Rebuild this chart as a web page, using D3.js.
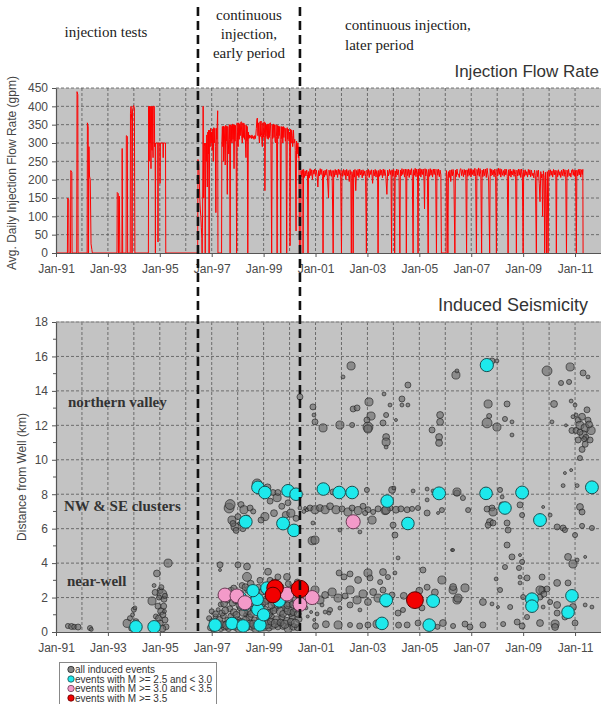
<!DOCTYPE html>
<html><head><meta charset="utf-8">
<script src="https://cdn.jsdelivr.net/npm/d3@7"></script>
<style>body{margin:0;background:#fff}svg{display:block}</style>
</head><body><svg id="c" width="601" height="704"></svg>
<script>
// ---------- DATA ----------
const yearTicks = [1991,1993,1995,1997,1999,2001,2003,2005,2007,2009,2011];
const yearTickLabels = ["Jan-91","Jan-93","Jan-95","Jan-97","Jan-99","Jan-01","Jan-03","Jan-05","Jan-07","Jan-09","Jan-11"];
const gridYears = [1992,1993,1994,1995,1996,1997,1998,1999,2000,2001,2002,2003,2004,2005,2006,2007,2008,2009,2010,2011];
const flowTicks = [0,50,100,150,200,250,300,350,400,450];
const distTicks = [0,2,4,6,8,10,12,14,16,18];
const distMinorTicks = [1,3,5,7,9,11,13,15,17];
const phaseBreaks = [1996.47, 2000.40];
const phaseLabels = [["injection tests"],["continuous","injection,","early period"],["continuous injection,","later period"]];
const regionLabels = ["northern valley","NW & SE clusters","near-well"];
const legendLabels = ["all induced events","events with M >= 2.5 and < 3.0","events with M >= 3.0 and < 3.5","events with M >= 3.5"];
const panelTitles = ["Injection Flow Rate","Induced Seismicity"];
const axisTitles = ["Avg. Daily Injection Flow Rate (gpm)","Distance from Well (km)"];

// [decimal year, gpm]
const flowRate = [
[1991.00,0],[1991.44,0],[1991.45,150],[1991.49,145],[1991.50,0],[1991.56,0],[1991.57,225],[1991.61,220],[1991.62,0],[1991.80,0],[1991.81,440],[1991.84,432],[1991.85,0],[1992.20,0],[1992.21,355],[1992.24,345],[1992.25,0],[1992.27,290],[1992.29,210],[1992.32,200],[1992.35,25],[1992.38,10],[1992.40,0],
[1993.35,0],[1993.36,165],[1993.40,162],[1993.41,0],[1993.44,155],[1993.46,0],[1993.54,0],[1993.55,285],[1993.57,0],[1993.70,0],[1993.71,320],[1993.75,318],[1993.76,0],[1993.86,0],[1993.87,380],[1993.89,400],[1993.92,360],[1993.93,0],[1993.95,390],[1993.99,402],[1994.02,395],[1994.04,0],
[1994.56,0],[1994.57,400],[1994.59,250],[1994.60,400],[1994.62,300],[1994.63,400],[1994.66,230],[1994.67,400],[1994.70,280],[1994.71,400],[1994.74,260],[1994.75,400],[1994.79,400],[1994.80,290],[1994.82,300],[1994.83,0],[1994.84,300],[1994.92,300],[1994.93,30],[1994.94,300],[1995.00,300],[1995.01,190],[1995.02,300],[1995.12,300],[1995.13,260],[1995.14,300],[1995.22,300],[1995.23,0],[1996.46,0],
[1996.47,255],[1996.50,240],[1996.52,200],[1996.54,150],[1996.56,120],[1996.58,100],[1996.60,70],[1996.62,40],[1996.63,0],[1996.65,120],[1996.67,400],[1996.69,150],[1996.71,290],[1996.73,300],[1996.75,0],
[1996.77,300],[1996.79,250],[1996.81,322],[1996.83,180],[1996.85,330],[1996.87,270],[1996.88,335],[1996.90,0],[1996.92,335],[1996.94,290],[1996.96,340],[1996.98,300],[1997.00,330],[1997.02,280],[1997.04,338],[1997.06,250],[1997.08,342],[1997.10,300],[1997.12,340],[1997.14,290],[1997.16,110],[1997.18,340],[1997.20,310],[1997.21,345],[1997.23,388],[1997.24,0],[1997.38,0],
[1997.39,300],[1997.41,345],[1997.43,290],[1997.45,346],[1997.46,250],[1997.48,345],[1997.50,300],[1997.52,240],[1997.54,348],[1997.56,305],[1997.58,346],[1997.60,160],[1997.62,345],[1997.64,300],[1997.66,270],[1997.68,350],[1997.69,310],[1997.71,0],[1997.73,350],[1997.75,305],[1997.77,348],[1997.78,300],[1997.80,352],[1997.82,310],[1997.84,350],[1997.86,230],[1997.88,350],[1997.90,305],[1997.92,348],[1997.94,310],[1997.96,0],[1997.98,355],
[1998.00,300],[1998.02,290],[1998.04,355],[1998.06,310],[1998.08,352],[1998.10,320],[1998.12,356],[1998.14,358],[1998.16,312],[1998.18,300],[1998.20,355],[1998.22,315],[1998.24,354],[1998.26,310],[1998.28,350],[1998.30,300],[1998.32,260],[1998.34,348],[1998.36,305],[1998.37,345],[1998.39,0],[1998.41,330],[1998.43,312],[1998.45,322],[1998.47,314],[1998.50,320],[1998.53,312],[1998.55,322],[1998.58,313],[1998.60,318],[1998.63,310],[1998.65,320],[1998.68,312],[1998.70,322],[1998.72,340],[1998.74,365],[1998.76,368],[1998.78,320],[1998.80,355],[1998.82,315],[1998.84,300],[1998.86,358],[1998.88,318],[1998.90,360],[1998.92,320],[1998.95,290],[1998.97,355],[1998.99,315],
[1999.02,358],[1999.04,320],[1999.05,170],[1999.07,355],[1999.09,318],[1999.12,350],[1999.14,312],[1999.16,352],[1999.18,310],[1999.20,352],[1999.22,315],[1999.24,354],[1999.26,355],[1999.28,318],[1999.31,0],[1999.33,350],[1999.35,312],[1999.38,352],[1999.40,315],[1999.42,350],[1999.44,305],[1999.46,300],[1999.48,350],[1999.50,318],[1999.52,0],[1999.54,348],[1999.56,312],[1999.58,346],[1999.60,320],[1999.62,345],[1999.64,310],[1999.66,0],[1999.68,345],[1999.70,312],[1999.72,344],[1999.74,300],[1999.76,345],[1999.78,315],[1999.80,342],[1999.82,340],[1999.84,305],[1999.86,340],[1999.89,0],[1999.91,342],[1999.93,310],[1999.96,338],[1999.98,305],
[2000.00,330],[2000.02,20],[2000.04,338],[2000.06,300],[2000.08,335],[2000.10,320],[2000.12,290],[2000.15,335],[2000.17,300],[2000.20,310],[2000.22,280],[2000.25,60],[2000.27,305],[2000.29,270],[2000.32,300],[2000.34,260],[2000.36,290],[2000.38,0],[2000.43,0],
[2000.44,225],[2000.47,208],[2000.49,227],[2000.51,212],[2000.52,0],[2000.54,228],[2000.57,206],[2000.60,224],[2000.63,210],[2000.66,226],[2000.69,214],[2000.71,0],[2000.73,222],[2000.76,205],[2000.79,230],[2000.82,211],[2000.85,227],[2000.88,200],[2000.91,226],[2000.94,215],[2000.97,229],
[2001.00,209],[2001.03,226],[2001.06,212],[2001.09,180],[2001.12,225],[2001.15,210],[2001.18,230],[2001.21,214],[2001.24,228],[2001.27,208],[2001.29,0],[2001.31,224],[2001.34,207],[2001.37,226],[2001.40,212],[2001.43,228],[2001.46,205],[2001.50,150],[2001.52,226],[2001.55,211],[2001.58,227],[2001.61,209],[2001.64,225],[2001.68,0],[2001.70,225],[2001.73,208],[2001.76,228],[2001.79,213],[2001.82,226],[2001.85,206],[2001.88,229],[2001.91,214],[2001.94,227],[2001.97,210],
[2002.00,0],[2002.02,225],[2002.05,209],[2002.08,228],[2002.11,212],[2002.14,226],[2002.17,200],[2002.20,228],[2002.23,210],[2002.26,225],[2002.30,195],[2002.33,227],[2002.36,212],[2002.38,0],[2002.40,222],[2002.43,210],[2002.45,0],[2002.47,226],[2002.50,207],[2002.52,228],[2002.55,170],[2002.58,225],[2002.61,211],[2002.64,228],[2002.67,206],[2002.70,229],[2002.73,213],[2002.76,226],[2002.80,205],[2002.83,227],[2002.86,211],[2002.90,224],[2002.93,208],[2002.96,0],[2002.98,226],
[2003.01,212],[2003.04,228],[2003.07,206],[2003.10,225],[2003.13,214],[2003.16,227],[2003.20,190],[2003.23,226],[2003.26,210],[2003.30,228],[2003.33,207],[2003.36,225],[2003.39,213],[2003.41,0],[2003.43,225],[2003.46,209],[2003.49,228],[2003.52,212],[2003.55,226],[2003.58,205],[2003.61,229],[2003.64,211],[2003.67,227],[2003.71,208],[2003.75,160],[2003.78,226],[2003.81,210],[2003.85,228],[2003.88,214],[2003.91,225],[2003.93,0],[2003.95,227],[2003.98,209],
[2004.01,228],[2004.03,212],[2004.05,0],[2004.07,224],[2004.10,207],[2004.13,229],[2004.16,213],[2004.19,227],[2004.22,206],[2004.25,0],[2004.27,226],[2004.30,210],[2004.33,230],[2004.36,214],[2004.40,228],[2004.43,207],[2004.46,229],[2004.48,212],[2004.50,0],[2004.52,228],[2004.55,211],[2004.58,229],[2004.61,206],[2004.64,227],[2004.67,213],[2004.70,230],[2004.73,209],[2004.76,0],[2004.78,227],[2004.81,212],[2004.84,231],[2004.87,208],[2004.90,229],[2004.93,215],[2004.95,0],[2004.97,229],
[2005.00,212],[2005.03,230],[2005.06,207],[2005.09,228],[2005.12,214],[2005.15,229],[2005.18,200],[2005.20,120],[2005.22,230],[2005.25,210],[2005.28,228],[2005.31,213],[2005.34,0],[2005.36,228],[2005.39,209],[2005.42,230],[2005.45,212],[2005.48,227],[2005.51,207],[2005.54,229],[2005.57,214],[2005.60,229],[2005.63,210],[2005.66,0],[2005.68,228],[2005.71,212],[2005.74,229],[2005.77,208],[2005.80,226],[2005.83,213],[2005.85,0],[2006.03,0],
[2006.04,225],[2006.07,209],[2006.10,0],[2006.12,222],[2006.15,206],[2006.18,226],[2006.21,195],[2006.24,227],[2006.27,210],[2006.30,228],[2006.33,212],[2006.37,0],[2006.39,226],[2006.42,208],[2006.45,229],[2006.48,214],[2006.51,215],[2006.54,206],[2006.57,228],[2006.60,230],[2006.63,211],[2006.66,227],[2006.70,208],[2006.73,228],[2006.76,213],[2006.79,226],[2006.82,0],[2006.84,227],[2006.87,209],[2006.90,230],[2006.93,212],[2006.96,230],[2006.99,207],
[2007.02,228],[2007.05,214],[2007.08,227],[2007.11,210],[2007.14,231],[2007.17,208],[2007.20,0],[2007.22,228],[2007.25,212],[2007.28,232],[2007.31,209],[2007.34,230],[2007.37,213],[2007.40,0],[2007.42,226],[2007.45,208],[2007.48,229],[2007.51,211],[2007.55,229],[2007.58,206],[2007.61,231],[2007.64,215],[2007.67,200],[2007.71,0],[2007.73,230],[2007.76,210],[2007.79,228],[2007.82,213],[2007.85,226],[2007.88,208],[2007.91,229],[2007.94,212],[2007.97,0],[2007.99,228],
[2008.02,210],[2008.05,231],[2008.08,214],[2008.11,230],[2008.14,207],[2008.17,228],[2008.20,212],[2008.24,225],[2008.27,209],[2008.30,229],[2008.33,213],[2008.36,228],[2008.39,208],[2008.42,0],[2008.44,227],[2008.47,211],[2008.50,229],[2008.53,207],[2008.56,224],[2008.59,213],[2008.62,228],[2008.65,209],[2008.68,227],[2008.71,214],[2008.74,0],[2008.76,226],[2008.79,210],[2008.82,229],[2008.85,212],[2008.88,228],[2008.91,206],[2008.94,229],[2008.97,213],
[2009.00,0],[2009.02,226],[2009.05,209],[2009.08,227],[2009.11,212],[2009.14,222],[2009.17,207],[2009.20,228],[2009.23,213],[2009.26,227],[2009.29,208],[2009.32,226],[2009.35,211],[2009.38,218],[2009.41,205],[2009.44,226],[2009.47,212],[2009.51,0],[2009.53,225],[2009.56,208],[2009.59,226],[2009.62,190],[2009.65,140],[2009.68,222],[2009.71,205],[2009.73,215],[2009.75,100],[2009.78,224],[2009.81,206],[2009.83,0],[2009.86,220],[2009.88,160],[2009.90,0],[2009.93,222],[2009.96,0],[2009.99,226],
[2010.02,209],[2010.05,227],[2010.08,212],[2010.11,224],[2010.14,207],[2010.17,228],[2010.20,213],[2010.23,226],[2010.26,210],[2010.28,0],[2010.30,225],[2010.33,208],[2010.36,227],[2010.39,212],[2010.42,222],[2010.45,206],[2010.48,226],[2010.51,211],[2010.55,229],[2010.58,209],[2010.61,227],[2010.64,213],[2010.67,0],[2010.69,226],[2010.72,208],[2010.75,228],[2010.78,211],[2010.81,218],[2010.84,207],[2010.87,226],[2010.90,228],[2010.93,212],[2010.96,227],[2010.99,209],
[2011.02,225],[2011.05,0],[2011.07,226],[2011.10,210],[2011.13,228],[2011.16,213],[2011.19,229],[2011.22,207],[2011.25,227],[2011.28,214],[2011.30,228],[2011.31,0]
];

// [decimal year, distance km, magnitude]
const quakesAll = [
[1991.46,0.35,0.2],[1991.60,0.32,0.5],[1991.70,0.30,0.2],[1991.85,0.29,0.5],[1992.31,0.23,0.2],[1992.36,0.15,-0.2],
[1993.74,0.5,1.2],[1993.85,0.8,0.2],[1993.95,1.0,-0.2],[1994.00,1.3,0.2],[1994.04,1.4,-0.2],[1994.08,0.6,0.5],[1994.12,0.3,0.5],[1993.90,0.2,0.2],
[1995.32,4.0,1.2],[1994.89,3.4,0.8],[1994.78,2.7,-0.2],[1995.01,2.4,0.5],[1995.08,2.2,1.8],[1994.70,1.8,1.2],[1995.16,1.9,0.5],[1994.93,1.5,0.5],[1995.05,1.2,0.8],[1995.12,1.0,0.5],[1994.85,0.9,0.2],[1995.20,0.7,0.5],[1995.00,0.5,0.8],[1994.66,0.4,0.2],[1995.24,0.3,0.5],[1995.10,0.2,0.8],[1995.15,1.5,0.5],[1994.97,2.0,0.2],[1995.18,1.2,-0.2],[1994.95,0.8,0.5],[1995.06,2.6,0.2],[1995.20,2.1,0.2],[1994.82,2.3,0.5],
[1997.32,3.9,0.5],[1997.32,3.6,-0.5],[1998.01,3.9,0.5],[1998.36,3.8,0.8],[1998.36,3.2,1.5],[1999.17,3.5,0.8],[1999.25,3.0,0.5],[1999.55,3.2,0.5],[1999.90,3.2,0.8],[1998.86,3.0,0.5],[1998.17,2.7,0.5],[1998.50,2.8,0.8],[1999.40,2.9,0.5],[1999.95,2.8,0.5],[2000.30,2.9,0.5],
[1996.95,0.25,0.5],[1997.05,0.15,0.2],[1997.20,0.3,0.8],[1997.35,0.2,0.5],[1997.50,0.35,1.2],[1997.65,0.2,0.5],[1997.90,0.3,0.8],[1998.05,0.2,1.2],[1998.35,0.25,0.5],[1998.55,0.3,0.8],[1998.70,0.2,1.2],[1999.00,0.3,1.2],[1999.20,0.25,0.8],[1999.35,0.4,1.2],[1999.55,0.3,0.5],[1999.75,0.35,0.8],[1999.95,0.2,1.2],[2000.15,0.3,0.8],[2000.30,0.25,0.5],
[1996.90,0.8,0.2],[1997.02,0.6,0.5],[1997.15,0.9,0.2],[1997.30,0.7,0.8],[1997.45,0.95,0.5],[1997.60,0.7,0.2],[1997.75,0.9,0.8],[1998.00,0.75,0.5],[1998.15,0.6,0.8],[1998.45,0.85,0.8],[1998.65,0.7,0.5],[1998.90,0.8,1.2],[1999.10,0.6,0.8],[1999.30,0.9,0.5],[1999.50,0.7,1.2],[1999.70,0.85,0.5],[1999.90,0.65,0.8],[2000.10,0.9,0.5],[2000.35,0.75,0.8],
[1997.00,1.2,0.2],[1997.25,1.3,-0.2],[1997.40,1.1,0.5],[1997.70,1.35,0.5],[1997.85,1.15,0.8],[1998.10,1.4,0.5],[1998.40,1.2,0.8],[1998.60,1.35,0.5],[1999.05,1.3,0.8],[1999.25,1.15,0.5],[1999.45,1.4,0.8],[1999.65,1.2,1.2],[1999.85,1.35,0.5],[2000.05,1.1,0.8],[2000.25,1.3,0.5],
[1997.35,1.6,0.2],[1997.60,1.85,0.5],[1997.80,1.7,0.8],[1998.05,1.55,0.5],[1998.50,1.8,0.8],[1998.95,1.65,0.8],[1999.15,1.9,1.2],[1999.40,1.7,0.8],[1999.60,1.55,0.5],[1999.80,1.9,0.8],[2000.00,1.7,1.2],[2000.20,1.85,0.5],
[1997.55,2.3,0.5],[1997.75,2.4,0.8],[1998.12,2.25,0.5],[1998.40,2.45,0.8],[1998.65,2.2,0.5],[1998.95,2.35,0.8],[1999.20,2.2,0.5],[1999.55,2.4,0.8],[1999.75,2.3,0.5],[2000.05,2.35,0.8],[2000.30,2.2,0.5],
[1997.10,0.5,-0.2],[1997.55,0.55,-0.5],[1998.25,0.5,-0.2],[1998.80,0.45,-0.2],[1999.60,0.5,-0.5],[2000.00,0.45,-0.2],[1998.30,1.0,-0.2],[1999.00,1.0,-0.5],
[1997.05,0.45,0.8],[1997.22,0.55,0.5],[1997.40,0.45,0.8],[1997.58,0.4,1.2],[1997.72,0.6,0.8],[1997.95,0.5,1.2],[1998.12,0.4,0.8],[1998.30,0.65,1.2],[1998.48,0.5,0.8],[1998.62,0.45,1.2],[1998.95,0.55,0.8],[1999.15,0.45,1.2],[1999.28,0.6,0.8],[1999.45,0.5,1.2],[1999.65,0.55,0.8],[1999.82,0.45,1.2],[2000.05,0.6,0.8],[2000.22,0.5,1.2],
[1997.15,1.05,0.5],[1997.52,1.25,0.8],[1997.95,1.0,0.8],[1998.22,1.15,1.2],[1998.52,1.05,0.8],[1998.85,1.15,0.8],[1999.18,1.05,1.2],[1999.38,1.25,0.8],[1999.75,1.05,0.8],[1999.95,1.25,1.2],[2000.15,1.15,0.8],[2000.32,1.05,0.8],
[1997.48,1.65,0.8],[1997.92,1.85,0.8],[1998.30,1.9,0.8],[1998.70,1.6,1.2],[1999.05,1.75,0.8],[1999.30,1.55,0.8],[1999.68,1.75,1.2],[1999.92,1.55,0.8],[2000.12,1.6,0.8],
[1997.85,2.55,0.5],[1998.30,2.6,0.8],[1998.80,2.6,0.5],[1999.05,2.45,0.8],[1999.65,2.6,0.8],[2000.15,2.6,0.5],
[1997.67,7.2,1.8],[1997.78,6.5,1.2],[1997.90,6.1,1.2],[1998.01,6.7,0.5],[1998.13,7.4,0.5],[1998.24,7.1,1.2],[1998.48,7.2,0.5],[1997.94,5.9,0.5],[1997.71,7.4,1.8],[1997.82,6.3,0.5],[1998.09,6.3,-0.2],[1998.20,6.0,0.5],[1998.75,8.6,1.8],[1999.05,6.7,1.2],[1999.25,7.6,0.5],[1999.52,7.8,1.2],[1999.36,8.1,0.5],[1999.55,8.1,0.5],[1999.94,7.5,0.5],[2000.40,7.2,-0.2],[2000.87,5.3,1.2],[1999.15,8.4,0.8],[1999.70,7.3,0.5],[1999.85,6.8,0.8],[1998.90,6.5,0.5],[1999.40,6.9,0.8],[2000.05,6.9,1.2],[2000.25,6.6,0.5],[1998.60,7.0,0.2],[1998.35,6.6,0.8],
[2000.40,13.65,0.5],[2002.37,15.45,1.2],[2002.06,14.81,-0.2],[2000.90,13.07,0.5],[2000.94,12.6,-0.2],[2000.98,12.2,0.5],[2001.29,11.85,1.2],[2001.94,12.02,1.2],[2002.41,12.02,0.2],[2002.45,12.95,0.5],[2002.60,13.01,0.5],[2003.06,13.36,1.2],[2003.14,12.54,1.2],[2002.98,12.31,0.5],[2003.02,11.9,1.8],[2003.02,11.79,1.2],[2003.60,12.14,0.5],[2003.64,13.82,-0.2],[2003.72,12.6,0.2],[2003.87,13.18,-0.2],[2003.72,11.32,0.8],[2003.72,11.03,1.2],[2003.72,10.74,-0.2],[2004.10,12.31,-0.5],[2004.33,13.53,0.5],[2004.33,13.18,-0.2],[2004.56,13.18,-0.2],[2004.56,14.34,0.5],[2005.49,11.73,0.5],[2005.80,12.6,0.8],[2005.80,12.2,0.8],[2005.76,11.32,0.8],[2005.76,10.98,0.8],[2006.41,14.92,1.2],[2006.45,15.16,-0.2],[2007.65,13.24,1.2],[2007.69,12.54,0.2],[2007.61,12.14,1.8],[2007.99,11.9,1.2],[2007.80,15.74,0.5],[2007.99,15.74,-0.2],[2008.38,13.24,0.5],[2008.30,12.37,0.2],[2008.57,12.2,-0.2],[2008.57,11.44,-0.2],[2009.92,15.16,1.8],[2010.19,13.24,0.8],[2010.11,12.2,-0.2],[2010.46,14.46,0.2],[2010.81,15.39,1.2],[2010.77,14.52,0.2],[2010.85,13.41,-0.2],[2011.00,13.18,-0.2],[2011.31,15.04,0.5],[2011.50,14.81,-0.2],
[2011.04,12.6,-0.2],[2011.12,12.3,0.5],[2011.19,12.0,1.2],[2011.39,11.85,1.2],[2011.50,12.3,0.5],[2011.62,11.7,1.2],[2011.31,11.45,1.2],[2011.12,11.15,0.5],[2011.39,10.9,0.5],[2011.27,10.6,0.5],[2011.42,11.3,0.5],[2010.88,11.7,0.5],[2011.04,11.7,0.5],[2011.19,11.6,0.5],[2011.58,11.15,0.5],[2011.19,10.1,0.2],[2011.46,12.9,0.5],[2010.92,12.5,-0.2],[2010.65,12.0,-0.5],[2010.85,9.4,-0.5],[2010.54,8.5,-0.2],[2011.08,8.5,-0.2],[2011.27,12.5,0.8],[2011.54,12.05,0.8],[2011.35,11.2,0.2],
[2001.67,8.13,0.5],[2002.98,8.25,0.2],[2003.95,8.25,0.8],[2004.02,8.36,-0.2],[2004.76,8.19,-0.2],[2005.30,8.3,-0.2],[2005.53,8.19,-0.2],[2006.45,8.07,0.5],
[2000.67,7.1,-0.2],[2000.79,7.2,0.5],[2000.98,7.1,1.2],[2001.17,7.2,0.8],[2001.37,7.1,1.2],[2001.56,7.3,0.8],[2001.79,7.1,1.2],[2002.02,7.15,0.5],[2002.25,6.97,1.2],[2002.41,7.2,0.5],[2002.64,7.05,1.2],[2002.83,7.3,0.5],[2003.02,7.1,0.5],[2003.22,6.97,0.2],[2003.41,7.15,0.5],[2003.68,7.05,1.2],[2003.87,7.2,0.5],[2004.10,7.1,0.8],[2004.29,7.15,0.5],[2004.53,7.1,0.5],[2004.72,7.15,0.2],[2004.95,7.2,0.2],[2000.55,7.0,-0.2],[2000.60,7.2,-0.5],
[2003.18,6.5,1.2],[2002.91,6.91,0.2],[2003.99,6.21,0.5],[2004.06,5.63,0.5],[2001.94,5.92,-0.2],[2000.98,5.34,1.2],[2000.90,6.33,-0.2],[2005.30,7.67,-0.2],[2005.30,6.91,0.5],[2005.72,6.91,-0.5],[2006.26,4.76,-0.5],[2004.18,4.3,-0.2],[2002.71,5.81,-0.2],[2003.72,7.08,1.2],
[2001.91,3.43,0.5],[2002.10,3.2,0.5],[2002.33,3.37,0.5],[2002.64,3.02,0.8],[2003.02,3.43,1.2],[2003.10,3.14,0.5],[2003.49,2.9,0.2],[2003.60,3.48,0.8],[2003.79,3.19,0.2],[2004.06,3.43,-0.2],[2005.14,3.6,0.5],[2005.87,3.02,1.2],[2006.30,2.44,1.2],[2006.45,1.86,1.2],
[2000.98,2.44,1.2],[2001.17,1.86,1.2],[2001.37,2.15,0.8],[2001.64,2.32,1.2],[2001.87,1.97,1.2],[2002.14,2.09,0.5],[2002.33,2.44,1.2],[2002.60,1.86,1.2],[2002.83,2.21,1.2],[2003.02,1.74,0.8],[2003.22,2.32,0.8],[2003.41,1.97,1.2],[2003.60,2.44,0.5],[2003.72,1.68,1.2],[2003.95,2.15,0.5],[2002.33,1.57,0.5],[2001.94,1.39,-0.2],[2001.56,1.28,0.2],[2001.37,1.16,-0.2],[2002.71,1.28,-0.2],
[2000.63,1.4,-0.2],[2000.83,1.16,-0.5],[2001.06,1.05,-0.2],[2001.25,1.57,-0.2],[2001.52,1.1,-0.2],[2000.70,0.9,-0.5],[2000.95,0.7,-0.5],
[2001.87,0.41,1.2],[2002.33,0.41,0.2],[2003.02,0.41,0.5],[2003.37,0.46,1.2],[2004.53,0.41,0.5],[2004.95,0.52,0.5],[2006.30,0.35,0.2],[2001.00,0.35,0.5],[2001.40,0.45,0.8],[2002.70,0.35,0.5],[2004.20,0.4,0.5],[2005.70,0.3,0.2],
[2004.80,1.9,1.8],[2004.37,1.28,0.2],[2004.18,1.1,0.5],[2004.40,2.1,0.8],[2005.00,2.4,0.8],[2005.30,2.6,0.5],[2005.60,2.3,0.8],[2005.10,1.4,0.5],
[2006.45,8.13,1.2],[2006.68,7.78,0.2],[2005.87,7.08,0.2],[2006.88,7.08,0.2],[2007.61,7.14,0.5],[2007.80,7.2,0.5],[2007.84,6.97,1.2],[2007.72,6.39,0.8],[2007.65,6.21,0.5],[2007.84,6.33,0.5],[2008.11,8.25,0.2],[2008.19,7.84,-0.2],[2008.19,7.38,0.5],[2008.38,6.33,0.5],[2008.42,5.92,0.5],[2008.96,6.79,0.2],[2008.38,5.05,0.5],[2006.30,4.76,-0.5],[2008.57,4.36,0.5],[2008.30,3.77,0.2],[2008.88,4.47,-0.5],[2008.96,4.07,0.2],[2008.84,3.72,0.2],[2009.15,3.14,0.5],[2008.88,3.19,-0.2],[2008.88,2.85,-0.2],[2009.73,3.19,0.5],[2010.73,4.36,0.8],[2010.92,3.95,1.2],[2011.08,4.18,-0.2],[2011.39,4.36,-0.5],[2010.73,2.85,0.5],[2010.31,2.85,0.8],[2009.73,2.44,0.8],[2009.92,2.5,0.5],[2010.04,1.74,0.2],[2010.31,1.57,0.8],[2010.92,1.45,0.8],[2011.39,1.57,-0.2],[2011.65,1.45,-0.2],[2006.30,2.61,0.8],[2006.76,2.56,1.2],[2006.49,1.97,1.2],[2007.45,1.74,0.8],[2007.80,1.63,-0.2],[2007.96,3.08,-0.2],[2008.03,1.45,-0.5],[2008.50,1.45,0.2],[2009.00,2.03,0.2],[2009.65,2.03,0.5],[2009.77,1.45,-0.2],[2009.15,0.87,0.2],[2005.91,0.52,0.8],[2006.76,0.46,0.5],[2006.95,0.29,0.5],[2007.45,0.41,0.5],[2008.23,0.46,0.2],[2008.77,0.58,0.5],[2008.96,0.35,0.5],[2009.65,0.52,0.8],[2010.23,0.46,1.2],[2010.23,0.29,0.8],[2011.00,0.52,0.5],[2010.61,0.87,0.5],[2010.31,1.1,0.5],[2008.11,2.44,0.2],[2009.65,2.44,1.2],[2009.80,2.2,0.5],
[2010.61,9.23,-0.5],[2011.19,7.26,0.8],[2011.27,6.97,0.5],[2010.31,6.1,0.5],[2010.54,6.04,0.5],[2010.61,5.92,0.2],[2011.00,5.63,0.2],[2011.27,6.16,0.2],[2011.65,6.04,0.2],[2010.04,6.79,-0.2],[2009.77,7.26,-0.5],[2008.88,7.38,0.5]
];
const quakesM25 = [
[1994.08,0.3,2.7],[1994.78,0.3,2.7],[1997.13,0.4,2.7],[1997.78,0.5,2.6],[1998.21,0.35,2.7],[1998.86,0.4,2.6],[1998.78,1.3,2.7],[1998.75,1.9,2.7],[1998.59,2.4,2.6],[1999.13,2.55,2.7],[1998.28,1.6,2.6],[1999.00,1.0,2.6],[1998.10,2.0,2.6],[1999.60,1.8,2.6],
[1998.31,6.4,2.8],[1998.78,8.4,2.7],[1999.05,8.1,2.7],[1999.94,8.2,2.7],[2000.25,8.0,2.7],[1999.75,6.3,2.8],[2000.17,5.9,2.7],
[2001.30,8.3,2.7],[2001.91,8.1,2.7],[2002.41,8.1,2.7],[2003.76,7.6,2.7],[2004.56,6.3,2.7],[2005.76,8.05,2.8],[2007.57,8.05,2.7],[2008.96,8.1,2.8],[2011.65,8.4,2.8],[2008.30,7.2,2.7],[2009.65,6.5,2.8],
[2003.72,1.85,2.8],[2005.53,1.8,2.8],[2003.56,0.5,2.7],[2005.38,0.4,2.7],[2009.34,1.9,2.8],[2009.34,1.5,2.7],[2010.88,2.1,2.7],[2010.73,1.15,2.7],[2007.60,15.5,2.9]
];
const quakesM30 = [[1997.51,2.15,3.1],[1997.97,2.1,3.1],[1998.28,1.7,3.2],[1999.90,2.2,3.1],[2000.40,1.6,3.1],[2000.87,2.0,3.2],[2002.45,6.4,3.2]];
const quakesM35 = [[1999.44,2.55,4.0],[1999.36,2.15,3.7],[2000.40,2.5,4.3],[2004.83,1.85,4.1]];

// ---------- CHART ----------
const svg = d3.select("#c");
const W = 601;
const x = d3.scaleLinear().domain([1991, 2012]).range([56, 601]);
const yF = d3.scaleLinear().domain([0, 450]).range([253, 88]);
const yD = d3.scaleLinear().domain([0, 18]).range([632, 322]);
const rM = d3.scaleLinear().domain([-0.5, 2.5]).range([1.5, 6]);
const bg = "#c3c3c3", gridC = "#555", tickC = "#4a4a4a", sans = "Liberation Sans, Arial, sans-serif", serif = "Liberation Serif, Times New Roman, serif";

function panel(y, ticks, clipId) {
  const [y0, y1] = y.range();
  svg.append("clipPath").attr("id", clipId).append("rect")
    .attr("x", x(1991)).attr("y", y1).attr("width", W - x(1991)).attr("height", y0 - y1);
  svg.append("rect").attr("x", x(1991)).attr("y", y1).attr("width", W - x(1991)).attr("height", y0 - y1).attr("fill", bg);
  const g = svg.append("g").attr("stroke", gridC).attr("stroke-width", 0.8).attr("stroke-dasharray", "3,2");
  g.selectAll(".v").data(gridYears).join("line").attr("x1", d => x(d)).attr("x2", d => x(d)).attr("y1", y1).attr("y2", y0);
  g.selectAll(".h").data(ticks.filter(t => t > 0)).join("line").attr("x1", x(1991)).attr("x2", W).attr("y1", d => y(d)).attr("y2", d => y(d));
}
function axes(y, ticks, minor) {
  const [y0, y1] = y.range();
  const xa = svg.append("g").attr("transform", `translate(0,${y0})`)
    .call(d3.axisBottom(x).tickValues(yearTicks).tickFormat((d, i) => yearTickLabels[i]).tickSize(4).tickSizeOuter(0));
  xa.select(".domain").attr("stroke", "#555").attr("stroke-width", 1.2);
  xa.selectAll(".tick line").attr("stroke", "#555");
  xa.selectAll("text").attr("font-family", sans).attr("font-size", 12).attr("fill", tickC).attr("dy", "1.1em");
  const ya = svg.append("g").attr("transform", `translate(${x(1991)},0)`)
    .call(d3.axisLeft(y).tickValues(ticks).tickSize(4).tickSizeOuter(0).tickPadding(4));
  ya.select(".domain").attr("stroke", "#555").attr("stroke-width", 1.2);
  ya.selectAll(".tick line").attr("stroke", "#555");
  ya.selectAll("text").attr("font-family", sans).attr("font-size", 12).attr("fill", tickC);
  if (minor) {
    svg.append("g").selectAll("line").data(minor).join("line")
      .attr("x1", x(1991) - 3).attr("x2", x(1991)).attr("y1", d => y(d)).attr("y2", d => y(d)).attr("stroke", "#555");
  }
}

// top panel
panel(yF, flowTicks, "clipF");
svg.append("path").datum(flowRate).attr("clip-path", "url(#clipF)")
  .attr("d", d3.line().x(d => x(d[0])).y(d => yF(d[1])))
  .attr("fill", "none").attr("stroke", "#ff0000").attr("stroke-width", 1).attr("stroke-linejoin", "round");
axes(yF, flowTicks, null);

// bottom panel
panel(yD, distTicks, "clipD");
svg.append("line").attr("x1", x(1991)).attr("x2", W).attr("y1", yD(18)).attr("y2", yD(18)).attr("stroke", "#999").attr("stroke-width", 1);
const pts = svg.append("g").attr("clip-path", "url(#clipD)");
function dots(data, fill, stroke, sw) {
  pts.append("g").selectAll("circle").data(data).join("circle")
    .attr("cx", d => x(d[0])).attr("cy", d => yD(d[1])).attr("r", d => rM(d[2]))
    .attr("fill", fill).attr("stroke", stroke).attr("stroke-width", sw);
}
dots(quakesAll, "rgba(105,105,105,0.62)", "rgba(25,25,25,0.75)", 0.8);
dots(quakesM25, "#1de9ec", "#1b4f50", 1);
dots(quakesM30, "#f39ac9", "#6a3a55", 1);
dots(quakesM35, "#f20000", "#5a0000", 1);
axes(yD, distTicks, distMinorTicks);

// phase break dashed lines
svg.append("g").selectAll("line").data(phaseBreaks).join("line")
  .attr("x1", d => x(d)).attr("x2", d => x(d)).attr("y1", 7).attr("y2", 631)
  .attr("stroke", "#111").attr("stroke-width", 2.6).attr("stroke-dasharray", "9,5");

// phase labels
const pl = svg.append("g").attr("font-family", serif).attr("font-size", 15).attr("fill", "#222");
pl.append("text").attr("x", 106).attr("y", 37).attr("text-anchor", "middle").text(phaseLabels[0][0]);
phaseLabels[1].forEach((t, i) => pl.append("text").attr("x", (x(phaseBreaks[0]) + x(phaseBreaks[1])) / 2).attr("y", 20 + i * 19).attr("text-anchor", "middle").text(t));
phaseLabels[2].forEach((t, i) => pl.append("text").attr("x", 345).attr("y", 30 + i * 20).text(t));

// titles
svg.append("text").attr("x", 599).attr("y", 77).attr("text-anchor", "end").attr("font-family", sans).attr("font-size", 17).attr("fill", "#333").text(panelTitles[0]);
svg.append("text").attr("x", 588).attr("y", 311).attr("text-anchor", "end").attr("font-family", sans).attr("font-size", 18).attr("fill", "#333").text(panelTitles[1]);
svg.append("text").attr("transform", "translate(16,173) rotate(-90)").attr("text-anchor", "middle").attr("font-family", sans).attr("font-size", 12).attr("fill", "#444").text(axisTitles[0]);
svg.append("text").attr("transform", "translate(26,477) rotate(-90)").attr("text-anchor", "middle").attr("font-family", sans).attr("font-size", 12).attr("fill", "#444").text(axisTitles[1]);

// region labels
const rl = svg.append("g").attr("font-family", serif).attr("font-size", 15).attr("font-weight", "bold").attr("fill", "#333");
rl.append("text").attr("x", 68).attr("y", yD(13.05)).text(regionLabels[0]);
rl.append("text").attr("x", 64).attr("y", yD(7.05)).text(regionLabels[1]);
rl.append("text").attr("x", 67).attr("y", yD(2.65)).text(regionLabels[2]);

// legend
const lg = svg.append("g");
lg.append("rect").attr("x", 59.5).attr("y", 662.5).attr("width", 157).attr("height", 50).attr("fill", "#fff").attr("stroke", "#888");
const legColors = [["rgba(105,105,105,0.8)", "#222"], ["#1de9ec", "#1b4f50"], ["#f39ac9", "#6a3a55"], ["#f20000", "#5a0000"]];
legendLabels.forEach((t, i) => {
  lg.append("circle").attr("cx", 71).attr("cy", 669.5 + i * 9.5).attr("r", 3.2).attr("fill", legColors[i][0]).attr("stroke", legColors[i][1]).attr("stroke-width", 0.8);
  lg.append("text").attr("x", 75).attr("y", 673 + i * 9.5).attr("font-family", sans).attr("font-size", 10).attr("fill", "#333").text(t);
});
</script></body></html>
